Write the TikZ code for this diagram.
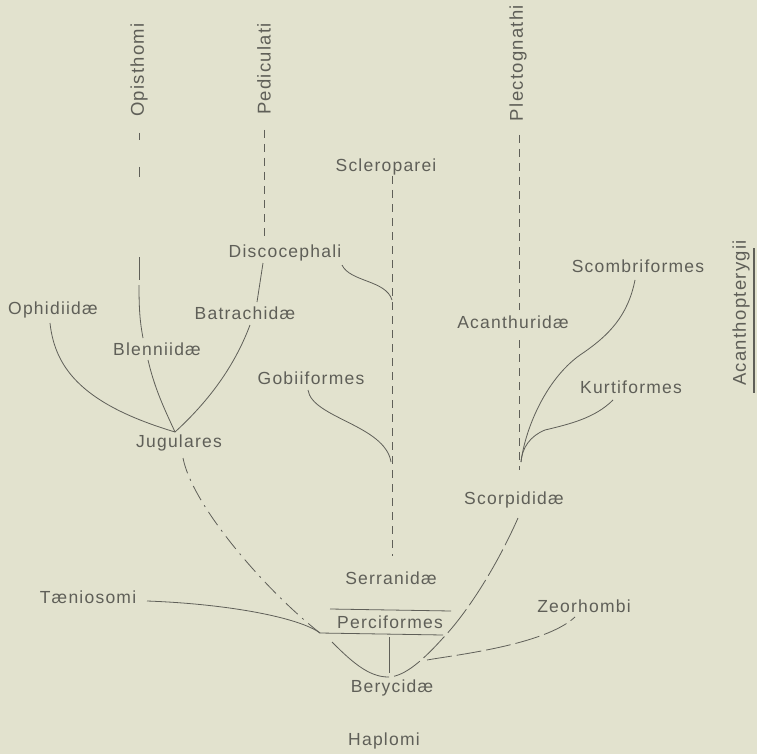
\documentclass[tikz,border=0pt]{standalone}
\usepackage{fontspec}
\setmainfont{Liberation Sans}[LetterSpace=7.0]
\definecolor{bg}{RGB}{226,226,206}
\definecolor{ink}{RGB}{95,95,88}
\begin{document}
\begin{tikzpicture}[x=1pt,y=-1pt,
  lbl/.style={font=\fontsize{17.5}{20}\selectfont, text=ink, inner sep=1pt},
  vlbl/.style={lbl, rotate=90, font=\fontsize{18.5}{20}\selectfont},
  ln/.style={draw=ink, line width=0.8pt},
  dsh/.style={ln, dash pattern=on 8pt off 6pt},
  brk/.style={ln, dash pattern=on 30pt off 5pt}]
\fill[bg] (0,0) rectangle (757,754);
\useasboundingbox (0,0) rectangle (757,754);

% labels
\node[vlbl] (opi) at (139,70) {Opisthomi};
\node[vlbl] (ped) at (264,69) {Pediculati};
\node[vlbl] (ple) at (518,63) {Plectognathi};
\node[vlbl] (aca) at (741,313) {Acanthopterygii};
\node[lbl] (scl) at (386,167) {Scleroparei};
\node[lbl] (dis) at (285,253) {Discocephali};
\node[lbl] (oph) at (53,310) {Ophidiidæ};
\node[lbl] (bat) at (245,313) {Batrachidæ};
\node[lbl] (ble) at (157,349) {Blenniidæ};
\node[lbl] (gob) at (311,378) {Gobiiformes};
\node[lbl] (jug) at (179,443) {Jugulares};
\node[lbl] (acn) at (513,322) {Acanthuridæ};
\node[lbl] (sco) at (638,266) {Scombriformes};
\node[lbl] (kur) at (631,387) {Kurtiformes};
\node[lbl] (scp) at (514,500) {Scorpididæ};
\node[lbl] (ser) at (391,578) {Serranidæ};
\node[lbl] (per) at (390,622) {Perciformes};
\node[lbl] (ber) at (392,688) {Berycidæ};
\node[lbl] (hap) at (384,741) {Haplomi};
\node[lbl] (zeo) at (584,606) {Zeorhombi};
\node[lbl] (tae) at (88,597) {Tæniosomi};

% junctions and free ends
\coordinate (J) at (175,432);
\coordinate (S1) at (392,300);
\coordinate (S2) at (391,462);
\coordinate (K) at (521,462);
\coordinate (P1) at (320,633);
\coordinate (B) at (388,677);
\coordinate (Z) at (427,660);

% Opisthomi branch
\draw[ln] (139,133) -- (139,140);
\draw[ln] (139,167) -- (139,177);
\draw[ln] (139,257) -- (139,280);
\draw[ln] (139,285) .. controls (139,310) and (140,322) .. (143,338);
\draw[ln] (148,360) .. controls (155,390) and (165,410) .. (J);
% Pediculati branch
\draw[dsh] (264,130) -- (264,238);
\draw[ln] (263,263) -- (257,302);
\draw[ln] (250,325) .. controls (235,365) and (210,400) .. (J);
% Ophidiidae
\draw[ln] (50,323) .. controls (55,370) and (85,405) .. (J);
% Jugulares to Perciformes
\draw[ln, dash pattern=on 16pt off 6pt on 2pt off 6pt] (183,458) .. controls (192,505) and (265,590) .. (P1);
% Scleroparei
\draw[dsh] (392,176) -- (392,556);
\draw[ln] (342,265) .. controls (350,282) and (386,280) .. (S1);
\draw[ln] (308,390) .. controls (312,418) and (385,425) .. (S2);
% Plectognathi
\draw[dsh] (519,135) -- (519,310);
\draw[dsh] (519,340) -- (519,470);
\draw[ln] (635,280) .. controls (628,315) and (610,335) .. (580,355)
              .. controls (545,380) and (525,430) .. (K);
\draw[ln] (613,400) .. controls (595,418) and (570,424) .. (545,430)
              .. controls (530,436) and (522,448) .. (K);
% Scorpididae down to Berycidae
\draw[brk] (518,518) .. controls (495,570) and (465,615) .. (443,638)
              .. controls (425,658) and (405,677) .. (B);
\draw[ln] (B) .. controls (368,677) and (350,660) .. (332,642);
% Zeorhombi
\draw[ln, dash pattern=on 25pt off 5pt] (Z) .. controls (455,655) and (545,645) .. (575,617);
% Taeniosomi
\draw[ln] (147,601) .. controls (230,604) and (300,618) .. (P1);
% Perciformes bars
\draw[ln] (330,609) -- (451,611);
\draw[ln] (P1) -- (443,635);
\draw[ln] (389,637) -- (389,673);
% Acanthopterygii bar
\draw[draw=ink, line width=2pt] (754,248) -- (754,393);
\end{tikzpicture}
\end{document}
